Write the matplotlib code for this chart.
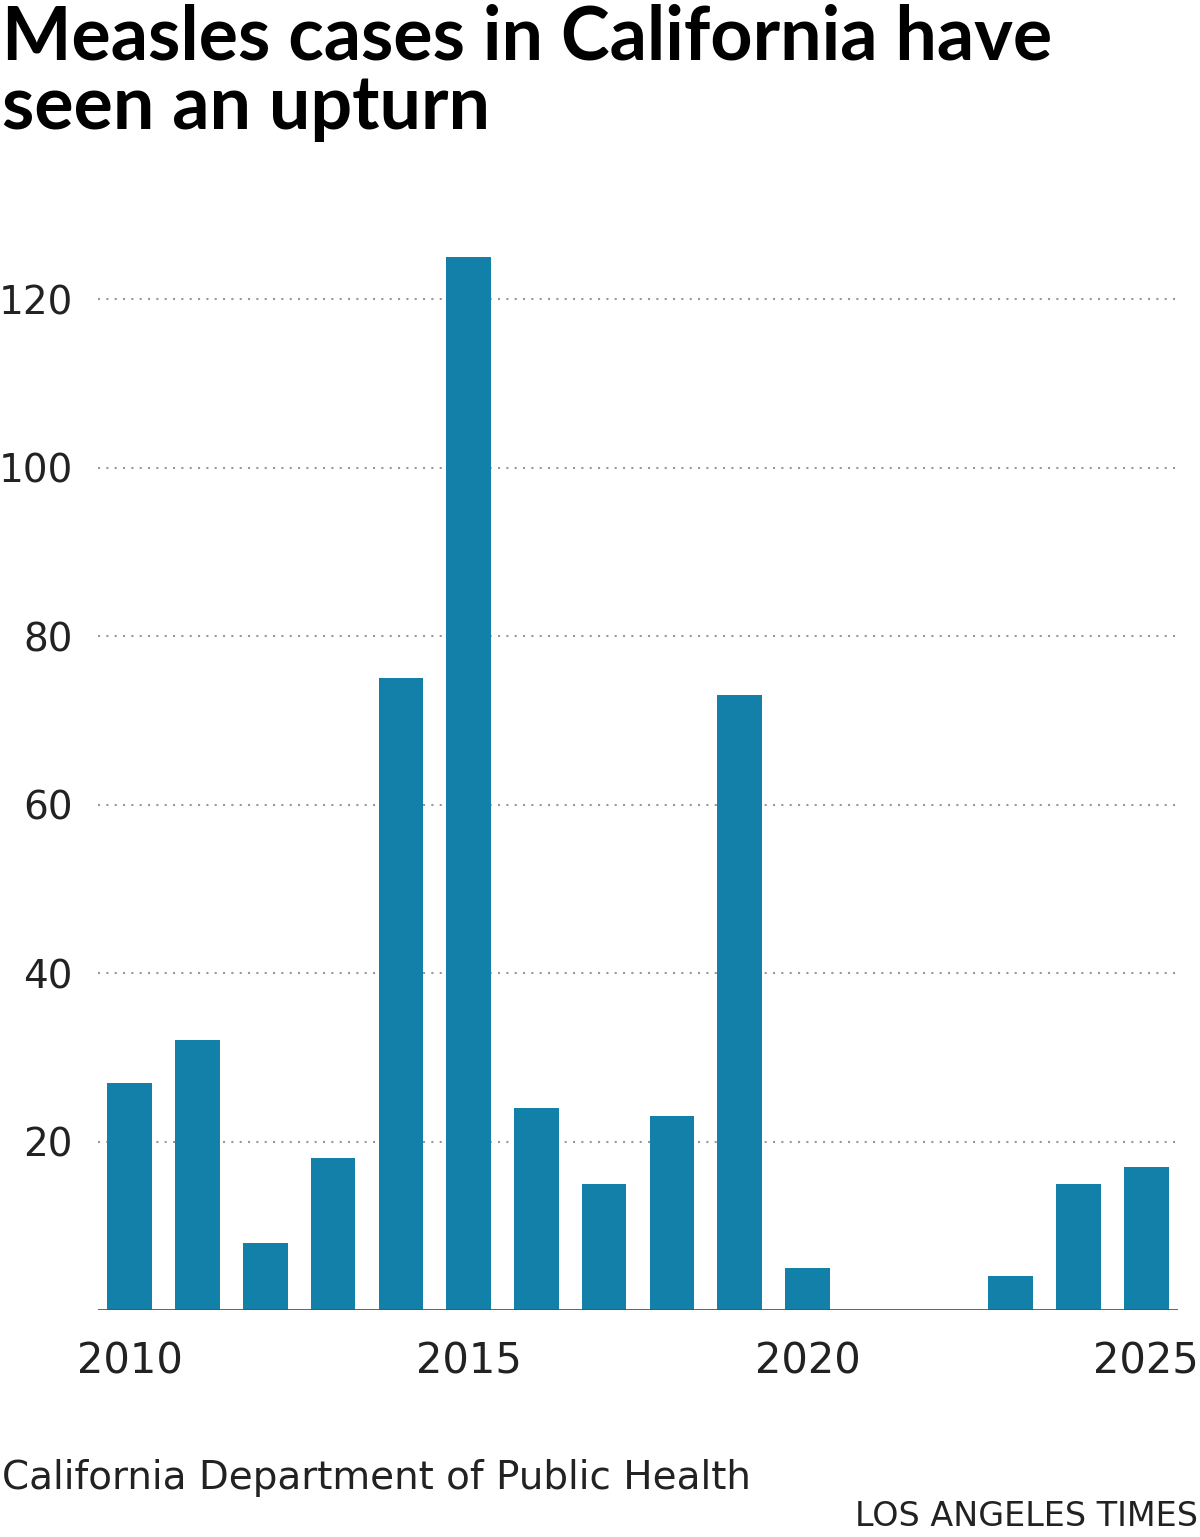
import matplotlib.pyplot as plt

years = list(range(2010, 2026))
cases = [27, 32, 8, 18, 75, 125, 24, 15, 23, 73, 5, 0, 0, 4, 15, 17]
yticks = [20, 40, 60, 80, 100, 120]
xticks = [2010, 2015, 2020, 2025]

fig = plt.figure(figsize=(12, 15.37), dpi=100)
ax = fig.add_axes([98/1200, 227/1537, 1080/1200, (1310-257)/1537])

ax.bar(years, cases, width=0.66, color="#1380aa", zorder=2)
ax.set_xlim(2010 - 0.47, 2025 + 0.47)
ax.set_ylim(0, 125)

for y in yticks:
    ax.axhline(y, color="#999999", linestyle=(0, (1, 3)), linewidth=1.5, zorder=1)
ax.axhline(0, color="#555555", linewidth=2, zorder=3)

ax.set_yticks(yticks)
ax.set_yticklabels([str(y) for y in yticks], fontsize=28, color="#222222")
ax.set_xticks(xticks)
ax.set_xticklabels([str(x) for x in xticks], fontsize=30, color="#222222")
ax.tick_params(axis="both", length=0)
ax.tick_params(axis="y", pad=18)
ax.tick_params(axis="x", pad=22)
for s in ax.spines.values():
    s.set_visible(False)

fig.text(0.002, 1 - 4/1537, "Measles cases in California have\nseen an upturn",
         fontsize=53, fontweight="bold", va="top", ha="left", linespacing=1.0,
         family="Lato")
fig.text(0.002, 1 - 1478/1537, "California Department of Public Health",
         fontsize=28, va="center", ha="left", color="#222222")
fig.text(0.998, 1 - 1517/1537, "LOS ANGELES TIMES",
         fontsize=24, va="center", ha="right", color="#222222")

fig.savefig("out.png", dpi=100)
